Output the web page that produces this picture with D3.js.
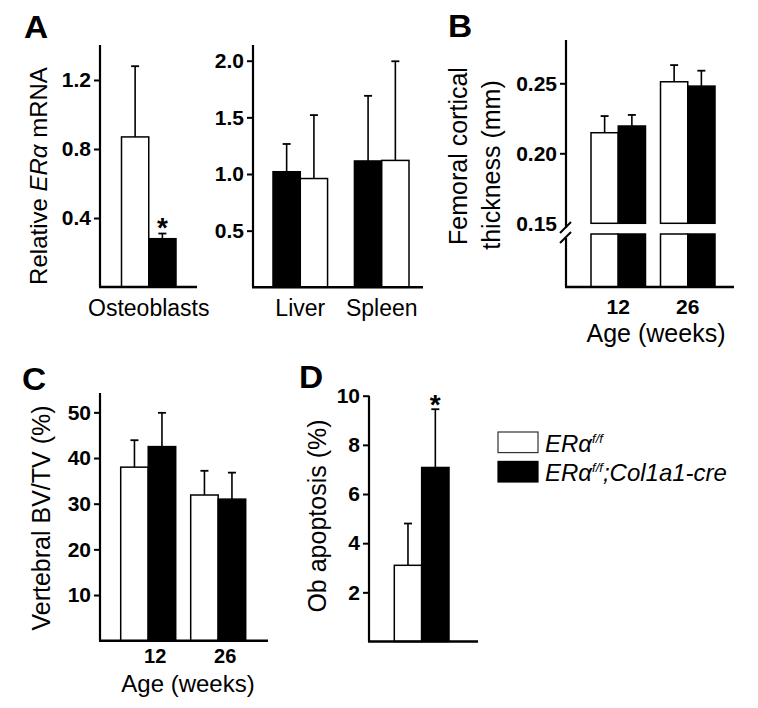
<!DOCTYPE html>
<html><head><meta charset="utf-8">
<script src="https://cdn.jsdelivr.net/npm/d3@7"></script>
<style>body{margin:0;background:#fff}</style>
</head><body>
<script>
// ---------- DATA ----------
const legendNames = ["ERαf/f", "ERαf/f;Col1a1-cre"];
// Panel A (osteoblasts)
const obCats = ["Osteoblasts"];
const obCtrl = [0.87], obCtrlErr = [0.41];
const obCko = [0.28], obCkoErr = [0.03];
const obTicks = [0.4, 0.8, 1.2];
// Panel A (organs) - black (cko) first, then white
const orgCats = ["Liver", "Spleen"];
const orgCko = [1.02, 1.115], orgCkoErr = [0.245, 0.575];
const orgCtrl = [0.96, 1.12], orgCtrlErr = [0.56, 0.875];
const orgTicks = [0.5, 1.0, 1.5, 2.0];
// Panel B
const ageCats = ["12", "26"];
const bCtrl = [0.2147, 0.2511], bCtrlErr = [0.0119, 0.0119];
const bCko = [0.2195, 0.2480], bCkoErr = [0.0079, 0.0110];
const bTicks = [0.15, 0.20, 0.25];
// Panel C
const cCtrl = [38.0, 31.9], cCtrlErr = [5.9, 5.3];
const cCko = [42.5, 31.0], cCkoErr = [7.4, 5.8];
const cTicks = [10, 20, 30, 40, 50];
// Panel D
const dCats = ["Ob"];
const dCtrl = [3.1], dCtrlErr = [1.7];
const dCko = [7.08], dCkoErr = [2.37];
const dTicks = [2, 4, 6, 8, 10];

// ---------- DRAW ----------
const FONT = "'Liberation Sans', Arial, Helvetica, sans-serif";
const svg = d3.select("body").append("svg").attr("width", 758).attr("height", 708)
  .style("font-family", FONT);

function drawBars(g, cats, x0, series, yTop, baseY) {
  const x1 = d3.scaleBand().domain(series.map((s, i) => i)).range([0, x0.bandwidth()]);
  const w = x1.bandwidth();
  series.forEach((s, i) => {
    const data = cats.map((c, j) => ({c, v: s.vals[j], e: s.errs[j]}));
    const cx = d => x0(d.c) + x1(i) + w / 2;
    g.selectAll(null).data(data).enter().append("line")
      .attr("x1", cx).attr("x2", cx)
      .attr("y1", d => yTop(d.v)).attr("y2", d => yTop(d.v + d.e))
      .attr("stroke", "#000").attr("stroke-width", 1.6);
    g.selectAll(null).data(data).enter().append("line")
      .attr("x1", d => cx(d) - 4).attr("x2", d => cx(d) + 4)
      .attr("y1", d => yTop(d.v + d.e)).attr("y2", d => yTop(d.v + d.e))
      .attr("stroke", "#000").attr("stroke-width", 1.8);
    g.selectAll(null).data(data).enter().append("rect")
      .attr("x", d => x0(d.c) + x1(i)).attr("width", w)
      .attr("y", d => yTop(d.v)).attr("height", d => baseY - yTop(d.v))
      .attr("fill", s.fill).attr("stroke", "#000").attr("stroke-width", 1.5);
  });
  return {x1, w};
}

function drawYAxis(x, y, ticks, fmt, top, bottom, skip) {
  const ax = svg.append("g").attr("transform", `translate(${x},0)`)
    .call(d3.axisLeft(y).tickValues(ticks).tickFormat(fmt).tickSize(6).tickPadding(3));
  ax.select(".domain").remove();
  ax.selectAll(".tick line").attr("stroke-width", 2);
  ax.selectAll(".tick text").attr("font-family", FONT).attr("font-size", 21)
    .attr("font-weight", "bold").attr("fill", "#000");
  if (skip) ax.selectAll(".tick line").filter(d => skip.includes(d)).remove();
  if (top !== null) svg.append("line").attr("x1", x).attr("x2", x).attr("y1", top).attr("y2", bottom)
    .attr("stroke", "#000").attr("stroke-width", 2.2);
  return ax;
}
function xLine(x1, x2, y) {
  svg.append("line").attr("x1", x1 - 1).attr("x2", x2).attr("y1", y).attr("y2", y)
    .attr("stroke", "#000").attr("stroke-width", 2.4);
}
function text(x, y, s, size, opts = {}) {
  const t = svg.append("text").attr("x", x).attr("y", y).text(s)
    .attr("font-size", size).attr("text-anchor", opts.anchor || "middle")
    .attr("font-weight", opts.bold ? "bold" : "normal").attr("fill", "#000");
  if (opts.rotate) t.attr("transform", `rotate(-90,${x},${y})`);
  return t;
}
function letter(x, y, s) {
  text(x, y, s, 31, {bold: true, anchor: "start"}).attr("font-weight", 900)
    .attr("transform", `translate(${x},0) scale(1.08,1) translate(${-x},0)`);
}

// ---- Panel A left ----
{
  const base = 287, axX = 100;
  const y = d3.scaleLinear().domain([0, 1.4]).range([base, base - 1.4 * 172.5]);
  const x0 = d3.scaleBand().domain(obCats).range([121.5, 176]);
  const g = svg.append("g");
  drawBars(g, obCats, x0, [
    {fill: "#fff", vals: obCtrl, errs: obCtrlErr},
    {fill: "#000", vals: obCko, errs: obCkoErr}], y, base);
  drawYAxis(axX, y, obTicks, d3.format(".1f"), 45, base);
  xLine(axX, 197, base);
  text(x0("Osteoblasts") + x0.bandwidth() / 2, 316, "Osteoblasts", 23);
  text(x0("Osteoblasts") + x0.bandwidth() * 0.75, 237, "*", 28, {bold: true});
  const yl = text(47, 176, "", 24, {rotate: true});
  yl.append("tspan").text("Relative ");
  yl.append("tspan").attr("font-style", "italic").text("ERα");
  yl.append("tspan").text(" mRNA");
  letter(24, 38, "A");
}
// ---- Panel A right ----
{
  const base = 287.3, axX = 253;
  const y = d3.scaleLinear().domain([0, 2.14]).range([base, base - 2.14 * 113.3]);
  const x0 = d3.scaleBand().domain(orgCats).range([273, 409]).paddingInner(0.33);
  const g = svg.append("g");
  drawBars(g, orgCats, x0, [
    {fill: "#000", vals: orgCko, errs: orgCkoErr},
    {fill: "#fff", vals: orgCtrl, errs: orgCtrlErr}], y, base);
  drawYAxis(axX, y, orgTicks, d3.format(".1f"), 45, base);
  xLine(axX, 423, base);
  orgCats.forEach(c => text(x0(c) + x0.bandwidth() / 2, 316, c, 23));
}
// ---- Panel B ----
{
  const base = 287, axX = 566, breakTop = 223.3, breakBot = 234;
  const y = d3.scaleLinear().domain([0.15, 0.281]).range([breakTop, breakTop - 0.131 * 1400]);
  const yLow = d3.scaleLinear().domain([0, 0.15]).range([base, breakBot]);
  const x0 = d3.scaleBand().domain(ageCats).range([591, 715]).paddingInner(0.216);
  const g = svg.append("g");
  const series = [
    {fill: "#fff", vals: bCtrl, errs: bCtrlErr},
    {fill: "#000", vals: bCko, errs: bCkoErr}];
  const {x1, w} = drawBars(g, ageCats, x0, series, y, breakTop);
  // lower part of bars (below the axis break)
  series.forEach((s, i) => {
    g.selectAll(null).data(ageCats).enter().append("rect")
      .attr("x", c => x0(c) + x1(i)).attr("width", w)
      .attr("y", yLow(0.15)).attr("height", yLow(0) - yLow(0.15))
      .attr("fill", s.fill).attr("stroke", "#000").attr("stroke-width", 1.5);
  });
  drawYAxis(axX, y, bTicks, d3.format(".2f"), null, null, [0.15]);
  svg.append("line").attr("x1", axX).attr("x2", axX).attr("y1", 40).attr("y2", 228)
    .attr("stroke", "#000").attr("stroke-width", 2.2);
  svg.append("line").attr("x1", axX).attr("x2", axX).attr("y1", 238).attr("y2", base)
    .attr("stroke", "#000").attr("stroke-width", 2.2);
  [[560, 233, 571, 222], [560, 243, 571, 232]].forEach(p =>
    svg.append("line").attr("x1", p[0]).attr("y1", p[1]).attr("x2", p[2]).attr("y2", p[3])
      .attr("stroke", "#000").attr("stroke-width", 2));
  xLine(axX, 734, base);
  ageCats.forEach(c => text(x0(c) + x0.bandwidth() / 2, 314, c, 21, {bold: true}));
  text(656, 342, "Age (weeks)", 25);
  text(467, 156, "Femoral cortical", 25, {rotate: true});
  text(500, 165, "thickness (mm)", 25, {rotate: true});
  letter(448, 37, "B");
}
// ---- Panel C ----
{
  const base = 640.7, axX = 100;
  const y = d3.scaleLinear().domain([0, 54.2]).range([base, base - 54.2 * 4.567]);
  const x0 = d3.scaleBand().domain(ageCats).range([120.7, 245.7]).paddingInner(0.214);
  const g = svg.append("g");
  drawBars(g, ageCats, x0, [
    {fill: "#fff", vals: cCtrl, errs: cCtrlErr},
    {fill: "#000", vals: cCko, errs: cCkoErr}], y, base);
  drawYAxis(axX, y, cTicks, d3.format("d"), 393, base);
  xLine(axX, 268, base);
  ageCats.forEach(c => text(x0(c) + x0.bandwidth() / 2 + 7, 663, c, 20, {bold: true}));
  text(188, 692, "Age (weeks)", 24);
  text(50, 518, "Vertebral BV/TV (%)", 25, {rotate: true});
  letter(22, 390, "C");
}
// ---- Panel D ----
{
  const base = 641.5, axX = 369;
  const y = d3.scaleLinear().domain([0, 10]).range([base, base - 10 * 24.58]);
  const x0 = d3.scaleBand().domain(dCats).range([394.3, 449]);
  const g = svg.append("g");
  drawBars(g, dCats, x0, [
    {fill: "#fff", vals: dCtrl, errs: dCtrlErr},
    {fill: "#000", vals: dCko, errs: dCkoErr}], y, base);
  drawYAxis(axX, y, dTicks, d3.format("d"), y(10), base);
  xLine(axX, 478, base);
  text(x0("Ob") + x0.bandwidth() * 0.75, 414, "*", 28, {bold: true});
  text(326, 516, "Ob apoptosis (%)", 25, {rotate: true});
  letter(299, 388, "D");

  // legend
  const fills = ["#fff", "#000"];
  const ly = d3.scaleBand().domain(legendNames).range([432, 482]).paddingInner(0.3);
  legendNames.forEach((n, i) => {
    svg.append("rect").attr("x", 498).attr("y", ly(n)).attr("width", 40).attr("height", ly.bandwidth())
      .attr("fill", fills[i]).attr("stroke", i === 0 ? "#333" : "#000").attr("stroke-width", 1.2);
    const t = svg.append("text").attr("x", 545).attr("y", ly(n) + ly.bandwidth() - 1)
      .attr("font-size", 24).attr("font-style", "italic").attr("fill", "#000");
    t.append("tspan").text("ERα");
    t.append("tspan").attr("font-size", 13).attr("dy", -9).text("f/f");
    if (i === 1) t.append("tspan").attr("dy", 9).text(";Col1a1-cre");
  });
}
</script>
</body></html>
